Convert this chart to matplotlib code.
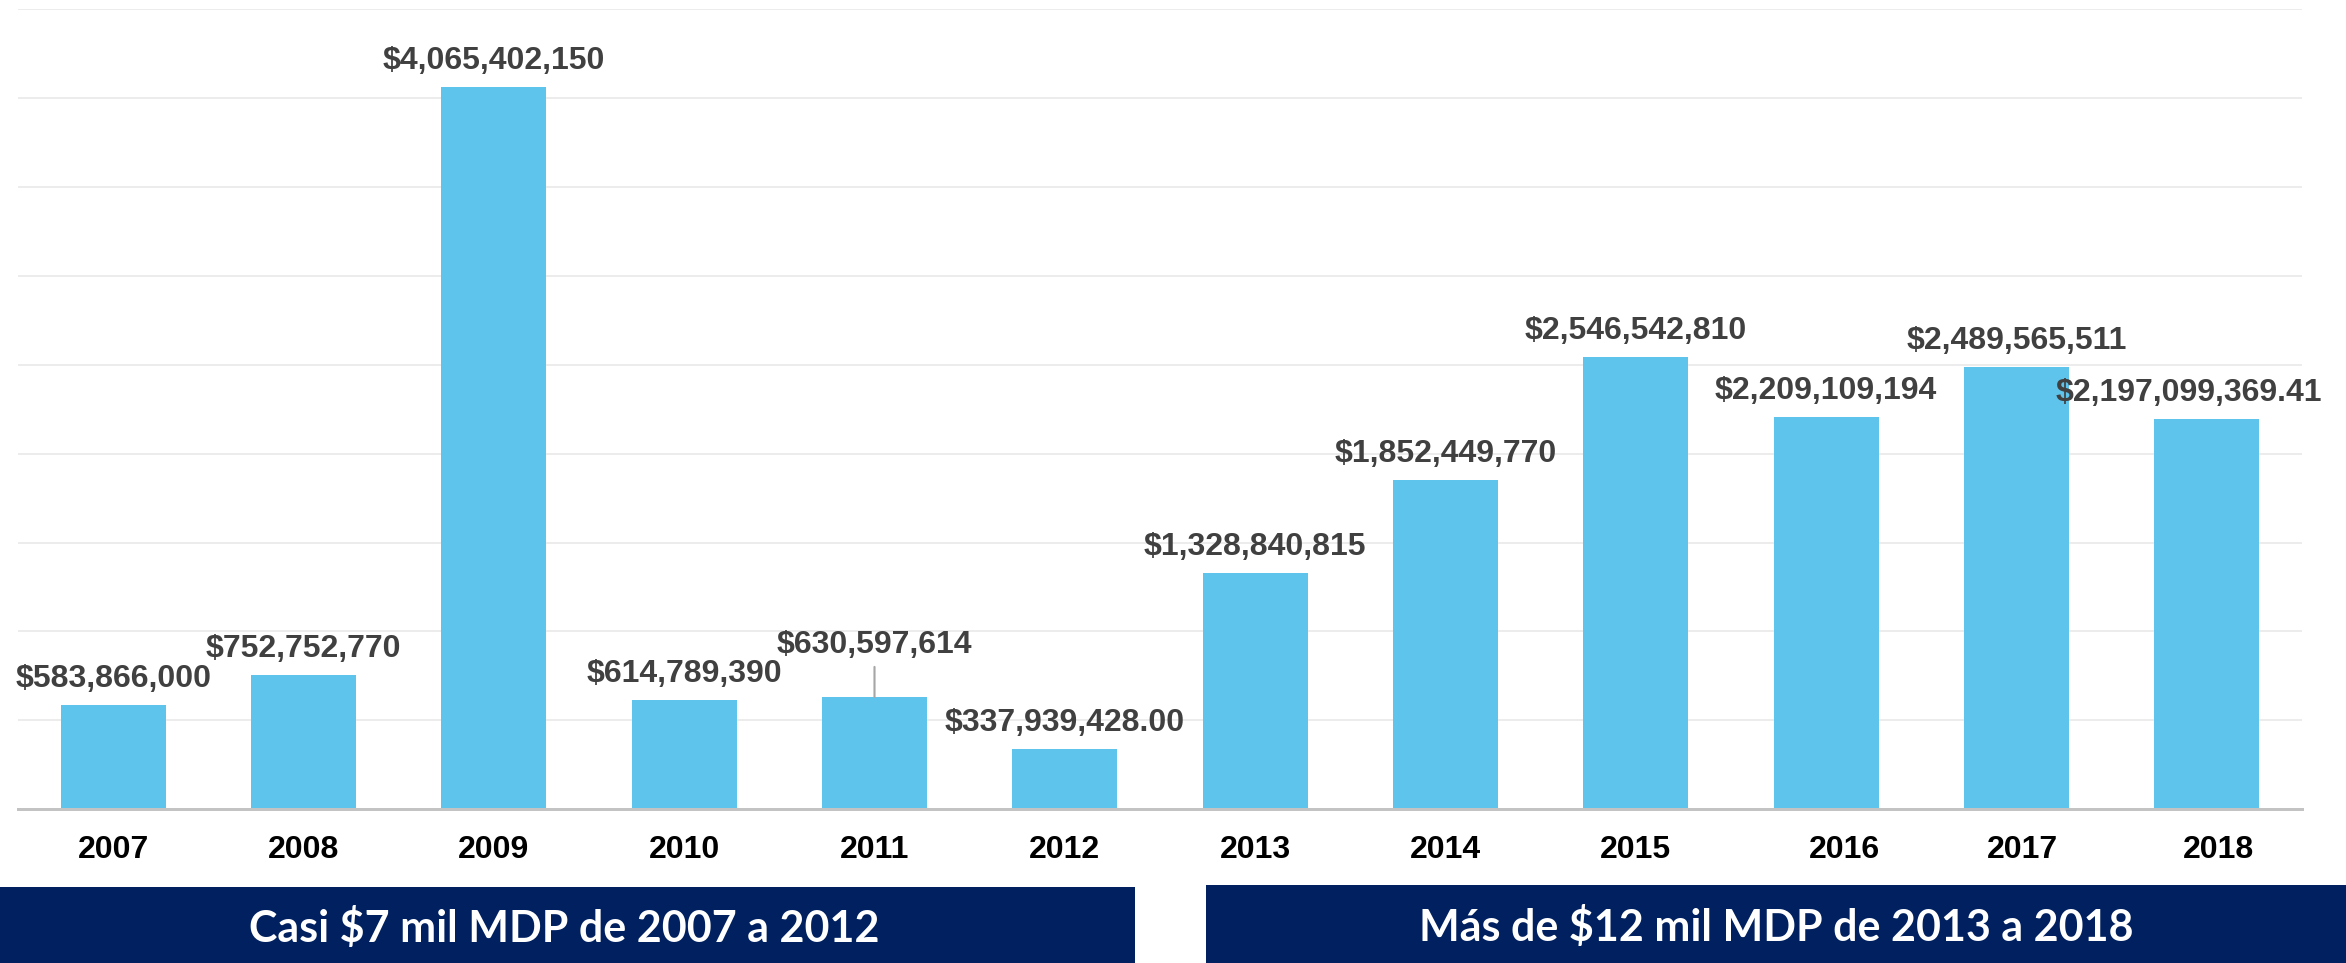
import matplotlib
matplotlib.use('Agg')
import matplotlib.pyplot as plt
from matplotlib.patches import Rectangle
import matplotlib.transforms as mtransforms

plt.rcParams['text.parse_math'] = False

# ---------------- data ----------------
years = ['2007', '2008', '2009', '2010', '2011', '2012',
         '2013', '2014', '2015', '2016', '2017', '2018']
amounts = [583866000, 752752770, 4065402150, 614789390, 630597614, 337939428.00,
           1328840815, 1852449770, 2546542810, 2209109194, 2489565511, 2197099369.41]
value_labels = ['$583,866,000', '$752,752,770', '$4,065,402,150', '$614,789,390',
                '$630,597,614', '$337,939,428.00', '$1,328,840,815', '$1,852,449,770',
                '$2,546,542,810', '$2,209,109,194', '$2,489,565,511', '$2,197,099,369.41']
banner_texts = ['Casi $7 mil MDP de 2007 a 2012', 'Más de $12 mil MDP de 2013 a 2018']

# ---------------- style ----------------
W, H, DPI = 2346, 963, 100
BAR_COLOR = '#5fc4ec'
LABEL_COLOR = '#404040'
BANNER_COLOR = '#002060'
px = 72.0 / DPI  # points per pixel

fig = plt.figure(figsize=(W / DPI, H / DPI), dpi=DPI)
fig.patch.set_facecolor('white')

ax_left, ax_right = 18, 2302
ax_top, ax_bottom = 9.5, 809
ax = fig.add_axes([ax_left / W, 1 - ax_bottom / H,
                   (ax_right - ax_left) / W, (ax_bottom - ax_top) / H])

x = list(range(len(years)))
ax.bar(x, amounts, width=0.55, color=BAR_COLOR, zorder=3)

ax.set_xlim(-0.5, len(years) - 0.5)
ax.set_ylim(0, 4.5e9)
ax.set_yticks([i * 5e8 for i in range(10)])
ax.grid(axis='y', color='#ececec', linewidth=2 * px, zorder=0)
ax.set_axisbelow(True)
ax.tick_params(left=False, bottom=False, labelleft=False, labelbottom=False)
for s in ['left', 'right', 'top']:
    ax.spines[s].set_visible(False)
ax.spines['bottom'].set_color('#c3c3c3')
ax.spines['bottom'].set_linewidth(3 * px)
ax.spines['bottom'].set_zorder(4)

label_font = dict(family=['Liberation Sans', 'DejaVu Sans'], weight='bold', size=23)

# special label placements (pixels)
special_offsets = {'2011': (0, 44), '2018': (-18, 18)}
year_shifts = {'2016': 18, '2017': 6, '2018': 12}

for xi, yr, v, lab in zip(x, years, amounts, value_labels):
    dx, dy = special_offsets.get(yr, (0, 18))
    if yr == '2011':
        ax.annotate(lab, xy=(xi, v), xytext=(dx * px, dy * px), textcoords='offset points',
                    ha='center', va='baseline', color=LABEL_COLOR, **label_font,
                    arrowprops=dict(arrowstyle='-', color='#a6a6a6', lw=1.5 * px * 1.4,
                                    shrinkA=3, shrinkB=0, relpos=(0.5, 0)))
    else:
        ax.annotate(lab, xy=(xi, v), xytext=(dx * px, dy * px), textcoords='offset points',
                    ha='center', va='baseline', color=LABEL_COLOR, **label_font)

# year labels
year_base_px = 858
for xi, yr in zip(x, years):
    ax.annotate(yr, xy=(xi, 0), xytext=(year_shifts.get(yr, 0) * px,
                                        -(year_base_px - ax_bottom) * px),
                textcoords='offset points', ha='center', va='baseline',
                color='black', annotation_clip=False, **label_font)

# banners
fig.patches.append(Rectangle((0, 0), 1135 / W, (963 - 887) / H, transform=fig.transFigure,
                             facecolor=BANNER_COLOR, edgecolor='none', zorder=1))
fig.patches.append(Rectangle((1206 / W, 0), (W - 1206) / W, (963 - 885) / H,
                             transform=fig.transFigure, facecolor=BANNER_COLOR,
                             edgecolor='none', zorder=1))
banner_font = dict(family=['Lato', 'DejaVu Sans'], weight='bold', size=31)
fig.text(564 / W, 1 - 942 / H, banner_texts[0], ha='center', va='baseline',
         color='white', zorder=2, **banner_font)
fig.text(1776 / W, 1 - 941 / H, banner_texts[1], ha='center', va='baseline',
         color='white', zorder=2, **banner_font)

fig.savefig('out.png', dpi=DPI, facecolor='white')
